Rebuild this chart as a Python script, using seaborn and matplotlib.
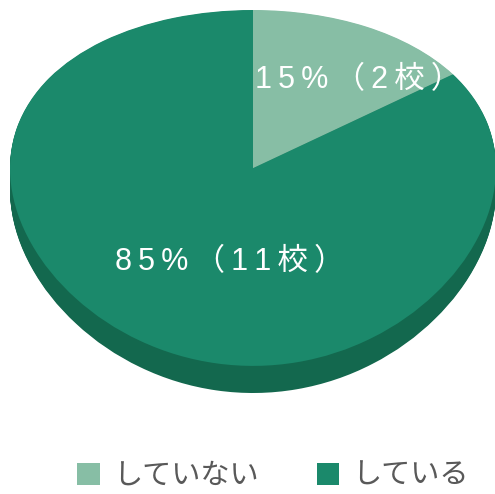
import matplotlib
matplotlib.use("Agg")
import matplotlib.pyplot as plt
import seaborn as sns
from matplotlib.patches import Patch

# データ
labels = ["していない", "している"]
counts = [2, 11]
top_colors = ["#87bea5", "#1b896b"]
side_colors = ["#6fa890", "#13684e"]

sns.set_style("white")
plt.rcParams["font.family"] = ["Noto Sans CJK JP", "DejaVu Sans"]

W, H = 495, 494
fig = plt.figure(figsize=(W / 100, H / 100), dpi=100)

# 遠近感: 奥(上)を少し縮める
D = 9.0
def persp(y):
    return y / (D + y)

def persp_inv(s):
    return s * D / (1 - s)

depth = 0.12  # 厚み (データ単位)
top_px, side_bottom_px = 10, 393
y_top, y_bot = persp(1), persp(-1 - depth)

left, right = 10, 496
ax = fig.add_axes([left / W, 1 - side_bottom_px / H, (right - left) / W,
                   (side_bottom_px - top_px) / H])

# 側面 (下から重ねる)
n_layers = 30
for k in range(n_layers, 0, -1):
    off = depth * k / n_layers
    ax.pie(counts, colors=side_colors, startangle=90, counterclock=False,
           center=(0, -off), wedgeprops=dict(linewidth=0))

# 上面
ax.pie(counts, colors=top_colors, startangle=90, counterclock=False,
       wedgeprops=dict(linewidth=0))

ax.set_aspect("auto")
ax.set_yscale("function", functions=(persp, persp_inv))
ax.set_xlim(-1, 1)
ax.set_ylim(-1 - depth, 1)
ax.axis("off")

total = sum(counts)
texts = [f"{round(c / total * 100)}%（{c}校）" for c in counts]
texts = ["\u2009".join(t) for t in texts]
label_font = ["Liberation Sans", "DejaVu Sans", "Noto Sans CJK JP"]
fig.text(255 / W, 1 - 88 / H, texts[0], color="white", fontsize=22,
         ha="left", va="baseline", family=label_font)
fig.text(115 / W, 1 - 270 / H, texts[1], color="white", fontsize=22,
         ha="left", va="baseline", family=label_font)

handles = [Patch(facecolor=c, edgecolor="none") for c in top_colors]
fig.legend(handles, labels, loc="center", bbox_to_anchor=(273 / W, 1 - 476 / H),
           ncol=2, frameon=False, fontsize=21, labelcolor="#595959",
           handlelength=0.76, handleheight=0.76, handletextpad=0.45,
           columnspacing=2.0)

fig.savefig("out.png", dpi=100, facecolor="white")
